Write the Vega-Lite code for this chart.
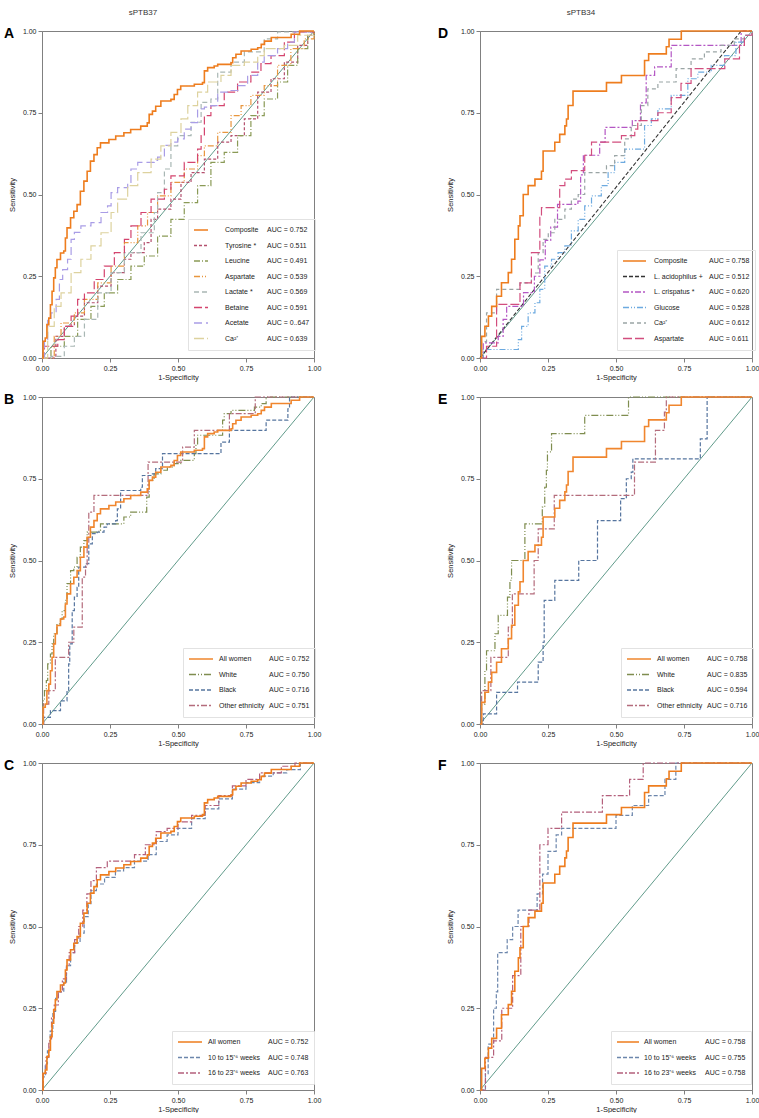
{
"$schema":"https://vega.github.io/schema/vega-lite/v6.json",
"padding":{"left":3,"top":8,"right":0,"bottom":0},
"config":{
 "font":"Liberation Sans",
 "view":{"stroke":"#808080","strokeWidth":1},
 "axis":{"grid":false,"tickSize":4,"tickColor":"#808080","domainColor":"#808080","labelFont":"Liberation Sans","labelFontSize":7,"labelColor":"#222","titleFont":"Liberation Sans","titleFontSize":7.5,"titleFontWeight":"normal","titleColor":"#222","labelFlush":false,"labelOverlap":false,"labelPadding":2},
 "axisX":{"titlePadding":2},
 "axisY":{"titlePadding":6},
 "legend":{"labelFont":"Liberation Sans","labelFontSize":7,"labelColor":"#222","padding":5,"rowPadding":3.5,"clipHeight":12,"symbolStrokeWidth":1.4,"labelLimit":200},
 "title":{"anchor":"start","frame":"group","offset":0,"fontSize":14,"fontWeight":"bold","font":"Liberation Sans","color":"#000","baseline":"alphabetic"},
 "line":{"strokeCap":"butt"}
},
"datasets":{
 "diag":[{"x":0,"y":0},{"x":1,"y":1}],
 "c37":[{"x":0,"y":0},{"x":0.004,"y":0.051},{"x":0.012,"y":0.061},{"x":0.018,"y":0.102},{"x":0.025,"y":0.122},{"x":0.031,"y":0.163},{"x":0.037,"y":0.204},{"x":0.043,"y":0.245},{"x":0.049,"y":0.276},{"x":0.055,"y":0.301},{"x":0.068,"y":0.321},{"x":0.08,"y":0.327},{"x":0.086,"y":0.367},{"x":0.092,"y":0.398},{"x":0.105,"y":0.429},{"x":0.117,"y":0.449},{"x":0.129,"y":0.469},{"x":0.141,"y":0.51},{"x":0.154,"y":0.541},{"x":0.166,"y":0.571},{"x":0.178,"y":0.602},{"x":0.191,"y":0.622},{"x":0.203,"y":0.643},{"x":0.215,"y":0.658},{"x":0.246,"y":0.668},{"x":0.271,"y":0.679},{"x":0.301,"y":0.689},{"x":0.326,"y":0.699},{"x":0.363,"y":0.709},{"x":0.387,"y":0.719},{"x":0.394,"y":0.745},{"x":0.406,"y":0.755},{"x":0.418,"y":0.77},{"x":0.437,"y":0.786},{"x":0.474,"y":0.791},{"x":0.486,"y":0.806},{"x":0.498,"y":0.821},{"x":0.51,"y":0.832},{"x":0.56,"y":0.837},{"x":0.59,"y":0.842},{"x":0.597,"y":0.878},{"x":0.609,"y":0.888},{"x":0.633,"y":0.893},{"x":0.646,"y":0.898},{"x":0.695,"y":0.903},{"x":0.701,"y":0.918},{"x":0.713,"y":0.929},{"x":0.732,"y":0.939},{"x":0.769,"y":0.944},{"x":0.793,"y":0.949},{"x":0.806,"y":0.959},{"x":0.818,"y":0.969},{"x":0.843,"y":0.98},{"x":0.916,"y":0.99},{"x":0.947,"y":1},{"x":1,"y":1}],
 "c34":[{"x":0,"y":0},{"x":0.006,"y":0.066},{"x":0.018,"y":0.097},{"x":0.031,"y":0.128},{"x":0.043,"y":0.158},{"x":0.061,"y":0.189},{"x":0.079,"y":0.23},{"x":0.104,"y":0.261},{"x":0.116,"y":0.302},{"x":0.128,"y":0.363},{"x":0.141,"y":0.404},{"x":0.147,"y":0.435},{"x":0.159,"y":0.5},{"x":0.177,"y":0.527},{"x":0.202,"y":0.547},{"x":0.226,"y":0.571},{"x":0.232,"y":0.633},{"x":0.275,"y":0.66},{"x":0.293,"y":0.684},{"x":0.312,"y":0.71},{"x":0.318,"y":0.731},{"x":0.324,"y":0.772},{"x":0.342,"y":0.816},{"x":0.465,"y":0.842},{"x":0.52,"y":0.864},{"x":0.605,"y":0.91},{"x":0.62,"y":0.93},{"x":0.685,"y":0.952},{"x":0.695,"y":0.975},{"x":0.74,"y":1},{"x":1,"y":1}],
 "a":[
  {"s":"Tyrosine *","x":0,"y":0},{"s":"Tyrosine *","x":0.051,"y":0.066},{"s":"Tyrosine *","x":0.082,"y":0.097},{"s":"Tyrosine *","x":0.119,"y":0.128},{"s":"Tyrosine *","x":0.156,"y":0.169},{"s":"Tyrosine *","x":0.205,"y":0.22},{"s":"Tyrosine *","x":0.254,"y":0.261},{"s":"Tyrosine *","x":0.303,"y":0.302},{"s":"Tyrosine *","x":0.327,"y":0.322},{"s":"Tyrosine *","x":0.376,"y":0.353},{"s":"Tyrosine *","x":0.401,"y":0.424},{"s":"Tyrosine *","x":0.425,"y":0.455},{"s":"Tyrosine *","x":0.474,"y":0.486},{"s":"Tyrosine *","x":0.511,"y":0.537},{"s":"Tyrosine *","x":0.548,"y":0.567},{"s":"Tyrosine *","x":0.597,"y":0.608},{"s":"Tyrosine *","x":0.646,"y":0.66},{"s":"Tyrosine *","x":0.695,"y":0.68},{"s":"Tyrosine *","x":0.744,"y":0.731},{"s":"Tyrosine *","x":0.793,"y":0.813},{"s":"Tyrosine *","x":0.842,"y":0.854},{"s":"Tyrosine *","x":0.891,"y":0.905},{"s":"Tyrosine *","x":0.94,"y":0.956},{"s":"Tyrosine *","x":0.977,"y":0.987},{"s":"Tyrosine *","x":1,"y":1},
  {"s":"Leucine","x":0,"y":0},{"s":"Leucine","x":0.033,"y":0.036},{"s":"Leucine","x":0.082,"y":0.066},{"s":"Leucine","x":0.131,"y":0.118},{"s":"Leucine","x":0.18,"y":0.158},{"s":"Leucine","x":0.229,"y":0.199},{"s":"Leucine","x":0.278,"y":0.24},{"s":"Leucine","x":0.327,"y":0.281},{"s":"Leucine","x":0.376,"y":0.312},{"s":"Leucine","x":0.425,"y":0.373},{"s":"Leucine","x":0.474,"y":0.424},{"s":"Leucine","x":0.523,"y":0.475},{"s":"Leucine","x":0.572,"y":0.527},{"s":"Leucine","x":0.621,"y":0.598},{"s":"Leucine","x":0.67,"y":0.629},{"s":"Leucine","x":0.719,"y":0.68},{"s":"Leucine","x":0.768,"y":0.741},{"s":"Leucine","x":0.817,"y":0.792},{"s":"Leucine","x":0.866,"y":0.844},{"s":"Leucine","x":0.903,"y":0.895},{"s":"Leucine","x":0.94,"y":0.946},{"s":"Leucine","x":0.977,"y":0.987},{"s":"Leucine","x":1,"y":1},
  {"s":"Aspartate","x":0,"y":0},{"s":"Aspartate","x":0.045,"y":0.066},{"s":"Aspartate","x":0.07,"y":0.107},{"s":"Aspartate","x":0.119,"y":0.138},{"s":"Aspartate","x":0.156,"y":0.179},{"s":"Aspartate","x":0.205,"y":0.23},{"s":"Aspartate","x":0.254,"y":0.281},{"s":"Aspartate","x":0.303,"y":0.353},{"s":"Aspartate","x":0.352,"y":0.404},{"s":"Aspartate","x":0.388,"y":0.445},{"s":"Aspartate","x":0.425,"y":0.496},{"s":"Aspartate","x":0.474,"y":0.537},{"s":"Aspartate","x":0.523,"y":0.578},{"s":"Aspartate","x":0.572,"y":0.619},{"s":"Aspartate","x":0.597,"y":0.649},{"s":"Aspartate","x":0.646,"y":0.69},{"s":"Aspartate","x":0.695,"y":0.741},{"s":"Aspartate","x":0.732,"y":0.772},{"s":"Aspartate","x":0.768,"y":0.803},{"s":"Aspartate","x":0.817,"y":0.833},{"s":"Aspartate","x":0.866,"y":0.895},{"s":"Aspartate","x":0.915,"y":0.946},{"s":"Aspartate","x":0.964,"y":0.976},{"s":"Aspartate","x":1,"y":1},
  {"s":"Lactate *","x":0,"y":0},{"s":"Lactate *","x":0.033,"y":0.005},{"s":"Lactate *","x":0.082,"y":0.036},{"s":"Lactate *","x":0.119,"y":0.066},{"s":"Lactate *","x":0.156,"y":0.118},{"s":"Lactate *","x":0.205,"y":0.199},{"s":"Lactate *","x":0.254,"y":0.261},{"s":"Lactate *","x":0.303,"y":0.322},{"s":"Lactate *","x":0.364,"y":0.383},{"s":"Lactate *","x":0.413,"y":0.445},{"s":"Lactate *","x":0.425,"y":0.506},{"s":"Lactate *","x":0.45,"y":0.578},{"s":"Lactate *","x":0.474,"y":0.649},{"s":"Lactate *","x":0.499,"y":0.68},{"s":"Lactate *","x":0.548,"y":0.721},{"s":"Lactate *","x":0.585,"y":0.782},{"s":"Lactate *","x":0.621,"y":0.792},{"s":"Lactate *","x":0.646,"y":0.874},{"s":"Lactate *","x":0.695,"y":0.905},{"s":"Lactate *","x":0.744,"y":0.936},{"s":"Lactate *","x":0.817,"y":0.976},{"s":"Lactate *","x":0.866,"y":0.997},{"s":"Lactate *","x":1,"y":1},
  {"s":"Betaine","x":0,"y":0},{"s":"Betaine","x":0.009,"y":0.036},{"s":"Betaine","x":0.058,"y":0.056},{"s":"Betaine","x":0.082,"y":0.097},{"s":"Betaine","x":0.107,"y":0.128},{"s":"Betaine","x":0.131,"y":0.179},{"s":"Betaine","x":0.156,"y":0.199},{"s":"Betaine","x":0.192,"y":0.24},{"s":"Betaine","x":0.229,"y":0.281},{"s":"Betaine","x":0.266,"y":0.322},{"s":"Betaine","x":0.303,"y":0.363},{"s":"Betaine","x":0.327,"y":0.404},{"s":"Betaine","x":0.364,"y":0.445},{"s":"Betaine","x":0.401,"y":0.486},{"s":"Betaine","x":0.45,"y":0.516},{"s":"Betaine","x":0.474,"y":0.557},{"s":"Betaine","x":0.523,"y":0.598},{"s":"Betaine","x":0.572,"y":0.639},{"s":"Betaine","x":0.585,"y":0.68},{"s":"Betaine","x":0.597,"y":0.741},{"s":"Betaine","x":0.621,"y":0.772},{"s":"Betaine","x":0.67,"y":0.813},{"s":"Betaine","x":0.719,"y":0.844},{"s":"Betaine","x":0.768,"y":0.874},{"s":"Betaine","x":0.805,"y":0.9},{"s":"Betaine","x":0.842,"y":0.925},{"s":"Betaine","x":0.891,"y":0.966},{"s":"Betaine","x":0.928,"y":0.997},{"s":"Betaine","x":1,"y":1},
  {"s":"Acetate","x":0,"y":0},{"s":"Acetate","x":0.009,"y":0.056},{"s":"Acetate","x":0.021,"y":0.118},{"s":"Acetate","x":0.033,"y":0.138},{"s":"Acetate","x":0.052,"y":0.179},{"s":"Acetate","x":0.064,"y":0.24},{"s":"Acetate","x":0.076,"y":0.27},{"s":"Acetate","x":0.094,"y":0.302},{"s":"Acetate","x":0.107,"y":0.363},{"s":"Acetate","x":0.119,"y":0.384},{"s":"Acetate","x":0.143,"y":0.404},{"s":"Acetate","x":0.18,"y":0.414},{"s":"Acetate","x":0.217,"y":0.445},{"s":"Acetate","x":0.241,"y":0.465},{"s":"Acetate","x":0.254,"y":0.506},{"s":"Acetate","x":0.278,"y":0.521},{"s":"Acetate","x":0.315,"y":0.537},{"s":"Acetate","x":0.327,"y":0.578},{"s":"Acetate","x":0.352,"y":0.598},{"s":"Acetate","x":0.413,"y":0.604},{"s":"Acetate","x":0.425,"y":0.614},{"s":"Acetate","x":0.45,"y":0.65},{"s":"Acetate","x":0.474,"y":0.66},{"s":"Acetate","x":0.499,"y":0.67},{"s":"Acetate","x":0.523,"y":0.7},{"s":"Acetate","x":0.548,"y":0.72},{"s":"Acetate","x":0.572,"y":0.762},{"s":"Acetate","x":0.597,"y":0.767},{"s":"Acetate","x":0.621,"y":0.772},{"s":"Acetate","x":0.646,"y":0.813},{"s":"Acetate","x":0.695,"y":0.818},{"s":"Acetate","x":0.72,"y":0.833},{"s":"Acetate","x":0.756,"y":0.864},{"s":"Acetate","x":0.793,"y":0.905},{"s":"Acetate","x":0.817,"y":0.925},{"s":"Acetate","x":0.866,"y":0.946},{"s":"Acetate","x":0.903,"y":0.966},{"s":"Acetate","x":0.928,"y":0.997},{"s":"Acetate","x":1,"y":1},
  {"s":"Ca²⁺","x":0,"y":0},{"s":"Ca²⁺","x":0.021,"y":0.097},{"s":"Ca²⁺","x":0.045,"y":0.158},{"s":"Ca²⁺","x":0.07,"y":0.199},{"s":"Ca²⁺","x":0.107,"y":0.261},{"s":"Ca²⁺","x":0.143,"y":0.302},{"s":"Ca²⁺","x":0.18,"y":0.343},{"s":"Ca²⁺","x":0.217,"y":0.383},{"s":"Ca²⁺","x":0.254,"y":0.445},{"s":"Ca²⁺","x":0.278,"y":0.486},{"s":"Ca²⁺","x":0.315,"y":0.527},{"s":"Ca²⁺","x":0.352,"y":0.567},{"s":"Ca²⁺","x":0.401,"y":0.608},{"s":"Ca²⁺","x":0.437,"y":0.649},{"s":"Ca²⁺","x":0.474,"y":0.69},{"s":"Ca²⁺","x":0.511,"y":0.731},{"s":"Ca²⁺","x":0.536,"y":0.772},{"s":"Ca²⁺","x":0.572,"y":0.813},{"s":"Ca²⁺","x":0.609,"y":0.844},{"s":"Ca²⁺","x":0.658,"y":0.864},{"s":"Ca²⁺","x":0.695,"y":0.895},{"s":"Ca²⁺","x":0.744,"y":0.905},{"s":"Ca²⁺","x":0.793,"y":0.925},{"s":"Ca²⁺","x":0.817,"y":0.946},{"s":"Ca²⁺","x":0.891,"y":0.956},{"s":"Ca²⁺","x":0.94,"y":0.987},{"s":"Ca²⁺","x":1,"y":1}
 ],
 "d":[
  {"s":"L. crispatus *","x":0,"y":0},{"s":"L. crispatus *","x":0.012,"y":0.046},{"s":"L. crispatus *","x":0.067,"y":0.066},{"s":"L. crispatus *","x":0.085,"y":0.118},{"s":"L. crispatus *","x":0.098,"y":0.158},{"s":"L. crispatus *","x":0.16,"y":0.2},{"s":"L. crispatus *","x":0.2,"y":0.25},{"s":"L. crispatus *","x":0.22,"y":0.3},{"s":"L. crispatus *","x":0.24,"y":0.36},{"s":"L. crispatus *","x":0.26,"y":0.4},{"s":"L. crispatus *","x":0.285,"y":0.47},{"s":"L. crispatus *","x":0.36,"y":0.48},{"s":"L. crispatus *","x":0.37,"y":0.56},{"s":"L. crispatus *","x":0.38,"y":0.62},{"s":"L. crispatus *","x":0.44,"y":0.66},{"s":"L. crispatus *","x":0.46,"y":0.705},{"s":"L. crispatus *","x":0.56,"y":0.726},{"s":"L. crispatus *","x":0.59,"y":0.78},{"s":"L. crispatus *","x":0.611,"y":0.864},{"s":"L. crispatus *","x":0.642,"y":0.89},{"s":"L. crispatus *","x":0.703,"y":0.956},{"s":"L. crispatus *","x":0.96,"y":1},{"s":"L. crispatus *","x":1,"y":1},
  {"s":"Glucose","x":0,"y":0},{"s":"Glucose","x":0.012,"y":0.026},{"s":"Glucose","x":0.141,"y":0.056},{"s":"Glucose","x":0.153,"y":0.097},{"s":"Glucose","x":0.177,"y":0.138},{"s":"Glucose","x":0.202,"y":0.169},{"s":"Glucose","x":0.22,"y":0.21},{"s":"Glucose","x":0.238,"y":0.281},{"s":"Glucose","x":0.263,"y":0.302},{"s":"Glucose","x":0.287,"y":0.322},{"s":"Glucose","x":0.312,"y":0.343},{"s":"Glucose","x":0.336,"y":0.389},{"s":"Glucose","x":0.361,"y":0.424},{"s":"Glucose","x":0.385,"y":0.465},{"s":"Glucose","x":0.41,"y":0.496},{"s":"Glucose","x":0.446,"y":0.527},{"s":"Glucose","x":0.471,"y":0.567},{"s":"Glucose","x":0.495,"y":0.598},{"s":"Glucose","x":0.532,"y":0.639},{"s":"Glucose","x":0.605,"y":0.711},{"s":"Glucose","x":0.63,"y":0.731},{"s":"Glucose","x":0.654,"y":0.762},{"s":"Glucose","x":0.703,"y":0.803},{"s":"Glucose","x":0.764,"y":0.854},{"s":"Glucose","x":0.801,"y":0.874},{"s":"Glucose","x":0.85,"y":0.895},{"s":"Glucose","x":0.899,"y":0.925},{"s":"Glucose","x":0.941,"y":0.966},{"s":"Glucose","x":0.972,"y":0.987},{"s":"Glucose","x":1,"y":1},
  {"s":"Ca²⁺","x":0,"y":0},{"s":"Ca²⁺","x":0.006,"y":0.05},{"s":"Ca²⁺","x":0.024,"y":0.138},{"s":"Ca²⁺","x":0.061,"y":0.21},{"s":"Ca²⁺","x":0.147,"y":0.23},{"s":"Ca²⁺","x":0.189,"y":0.26},{"s":"Ca²⁺","x":0.214,"y":0.322},{"s":"Ca²⁺","x":0.232,"y":0.363},{"s":"Ca²⁺","x":0.251,"y":0.383},{"s":"Ca²⁺","x":0.275,"y":0.424},{"s":"Ca²⁺","x":0.312,"y":0.455},{"s":"Ca²⁺","x":0.336,"y":0.486},{"s":"Ca²⁺","x":0.361,"y":0.5},{"s":"Ca²⁺","x":0.385,"y":0.567},{"s":"Ca²⁺","x":0.465,"y":0.588},{"s":"Ca²⁺","x":0.495,"y":0.619},{"s":"Ca²⁺","x":0.532,"y":0.67},{"s":"Ca²⁺","x":0.556,"y":0.711},{"s":"Ca²⁺","x":0.593,"y":0.772},{"s":"Ca²⁺","x":0.617,"y":0.823},{"s":"Ca²⁺","x":0.654,"y":0.844},{"s":"Ca²⁺","x":0.721,"y":0.885},{"s":"Ca²⁺","x":0.776,"y":0.915},{"s":"Ca²⁺","x":0.825,"y":0.936},{"s":"Ca²⁺","x":0.886,"y":0.956},{"s":"Ca²⁺","x":0.935,"y":0.976},{"s":"Ca²⁺","x":0.972,"y":0.987},{"s":"Ca²⁺","x":1,"y":1},
  {"s":"Aspartate","x":0,"y":0},{"s":"Aspartate","x":0.024,"y":0.036},{"s":"Aspartate","x":0.061,"y":0.164},{"s":"Aspartate","x":0.147,"y":0.23},{"s":"Aspartate","x":0.189,"y":0.322},{"s":"Aspartate","x":0.22,"y":0.43},{"s":"Aspartate","x":0.226,"y":0.46},{"s":"Aspartate","x":0.293,"y":0.527},{"s":"Aspartate","x":0.312,"y":0.547},{"s":"Aspartate","x":0.336,"y":0.573},{"s":"Aspartate","x":0.385,"y":0.62},{"s":"Aspartate","x":0.41,"y":0.66},{"s":"Aspartate","x":0.52,"y":0.68},{"s":"Aspartate","x":0.569,"y":0.7},{"s":"Aspartate","x":0.58,"y":0.726},{"s":"Aspartate","x":0.654,"y":0.75},{"s":"Aspartate","x":0.703,"y":0.796},{"s":"Aspartate","x":0.739,"y":0.84},{"s":"Aspartate","x":0.776,"y":0.885},{"s":"Aspartate","x":0.9,"y":0.915},{"s":"Aspartate","x":0.954,"y":0.956},{"s":"Aspartate","x":0.972,"y":0.987},{"s":"Aspartate","x":1,"y":1}
 ],
 "dlin":[{"s":"L. acidophilus +","x":0,"y":0},{"s":"L. acidophilus +","x":0.25,"y":0.262},{"s":"L. acidophilus +","x":0.5,"y":0.522},{"s":"L. acidophilus +","x":0.75,"y":0.782},{"s":"L. acidophilus +","x":0.96,"y":1},{"s":"L. acidophilus +","x":1,"y":1}],
 "b":[
  {"s":"White","x":0,"y":0},{"s":"White","x":0.004,"y":0.071},{"s":"White","x":0.009,"y":0.102},{"s":"White","x":0.016,"y":0.133},{"s":"White","x":0.021,"y":0.184},{"s":"White","x":0.031,"y":0.214},{"s":"White","x":0.037,"y":0.245},{"s":"White","x":0.043,"y":0.276},{"s":"White","x":0.055,"y":0.306},{"s":"White","x":0.068,"y":0.321},{"s":"White","x":0.074,"y":0.347},{"s":"White","x":0.086,"y":0.378},{"s":"White","x":0.092,"y":0.429},{"s":"White","x":0.105,"y":0.469},{"s":"White","x":0.117,"y":0.48},{"s":"White","x":0.129,"y":0.51},{"s":"White","x":0.141,"y":0.541},{"s":"White","x":0.154,"y":0.561},{"s":"White","x":0.166,"y":0.587},{"s":"White","x":0.209,"y":0.592},{"s":"White","x":0.215,"y":0.612},{"s":"White","x":0.301,"y":0.633},{"s":"White","x":0.326,"y":0.648},{"s":"White","x":0.385,"y":0.694},{"s":"White","x":0.394,"y":0.745},{"s":"White","x":0.412,"y":0.765},{"s":"White","x":0.437,"y":0.776},{"s":"White","x":0.461,"y":0.786},{"s":"White","x":0.486,"y":0.796},{"s":"White","x":0.51,"y":0.806},{"s":"White","x":0.56,"y":0.827},{"s":"White","x":0.566,"y":0.852},{"s":"White","x":0.572,"y":0.883},{"s":"White","x":0.664,"y":0.929},{"s":"White","x":0.67,"y":0.949},{"s":"White","x":0.695,"y":0.959},{"s":"White","x":0.781,"y":0.969},{"s":"White","x":0.806,"y":0.98},{"s":"White","x":0.824,"y":1},{"s":"White","x":1,"y":1},
  {"s":"Black","x":0,"y":0},{"s":"Black","x":0.006,"y":0.02},{"s":"Black","x":0.031,"y":0.041},{"s":"Black","x":0.068,"y":0.071},{"s":"Black","x":0.092,"y":0.102},{"s":"Black","x":0.098,"y":0.184},{"s":"Black","x":0.102,"y":0.245},{"s":"Black","x":0.111,"y":0.347},{"s":"Black","x":0.119,"y":0.388},{"s":"Black","x":0.129,"y":0.418},{"s":"Black","x":0.135,"y":0.48},{"s":"Black","x":0.16,"y":0.49},{"s":"Black","x":0.172,"y":0.551},{"s":"Black","x":0.185,"y":0.582},{"s":"Black","x":0.203,"y":0.587},{"s":"Black","x":0.228,"y":0.602},{"s":"Black","x":0.24,"y":0.612},{"s":"Black","x":0.271,"y":0.622},{"s":"Black","x":0.277,"y":0.658},{"s":"Black","x":0.289,"y":0.714},{"s":"Black","x":0.363,"y":0.724},{"s":"Black","x":0.369,"y":0.76},{"s":"Black","x":0.406,"y":0.765},{"s":"Black","x":0.418,"y":0.781},{"s":"Black","x":0.443,"y":0.827},{"s":"Black","x":0.658,"y":0.862},{"s":"Black","x":0.689,"y":0.898},{"s":"Black","x":0.824,"y":0.929},{"s":"Black","x":0.904,"y":0.964},{"s":"Black","x":0.91,"y":1},{"s":"Black","x":1,"y":1},
  {"s":"Other ethnicity","x":0,"y":0},{"s":"Other ethnicity","x":0.006,"y":0.061},{"s":"Other ethnicity","x":0.025,"y":0.102},{"s":"Other ethnicity","x":0.049,"y":0.204},{"s":"Other ethnicity","x":0.098,"y":0.25},{"s":"Other ethnicity","x":0.117,"y":0.296},{"s":"Other ethnicity","x":0.148,"y":0.449},{"s":"Other ethnicity","x":0.16,"y":0.48},{"s":"Other ethnicity","x":0.166,"y":0.551},{"s":"Other ethnicity","x":0.172,"y":0.648},{"s":"Other ethnicity","x":0.191,"y":0.699},{"s":"Other ethnicity","x":0.39,"y":0.801},{"s":"Other ethnicity","x":0.517,"y":0.847},{"s":"Other ethnicity","x":0.56,"y":0.898},{"s":"Other ethnicity","x":0.689,"y":0.949},{"s":"Other ethnicity","x":0.784,"y":1},{"s":"Other ethnicity","x":1,"y":1}
 ],
 "e":[
  {"s":"White","x":0,"y":0},{"s":"White","x":0.006,"y":0.061},{"s":"White","x":0.018,"y":0.163},{"s":"White","x":0.024,"y":0.224},{"s":"White","x":0.055,"y":0.276},{"s":"White","x":0.067,"y":0.332},{"s":"White","x":0.101,"y":0.388},{"s":"White","x":0.11,"y":0.439},{"s":"White","x":0.116,"y":0.5},{"s":"White","x":0.165,"y":0.612},{"s":"White","x":0.229,"y":0.663},{"s":"White","x":0.238,"y":0.724},{"s":"White","x":0.244,"y":0.776},{"s":"White","x":0.248,"y":0.832},{"s":"White","x":0.263,"y":0.888},{"s":"White","x":0.385,"y":0.944},{"s":"White","x":0.546,"y":1},{"s":"White","x":1,"y":1},
  {"s":"Black","x":0,"y":0},{"s":"Black","x":0.012,"y":0.031},{"s":"Black","x":0.061,"y":0.097},{"s":"Black","x":0.138,"y":0.128},{"s":"Black","x":0.214,"y":0.189},{"s":"Black","x":0.232,"y":0.25},{"s":"Black","x":0.236,"y":0.378},{"s":"Black","x":0.275,"y":0.439},{"s":"Black","x":0.363,"y":0.5},{"s":"Black","x":0.432,"y":0.622},{"s":"Black","x":0.517,"y":0.689},{"s":"Black","x":0.538,"y":0.75},{"s":"Black","x":0.556,"y":0.77},{"s":"Black","x":0.562,"y":0.811},{"s":"Black","x":0.81,"y":0.872},{"s":"Black","x":0.835,"y":1},{"s":"Black","x":1,"y":1},
  {"s":"Other ethnicity","x":0,"y":0},{"s":"Other ethnicity","x":0.006,"y":0.102},{"s":"Other ethnicity","x":0.04,"y":0.204},{"s":"Other ethnicity","x":0.104,"y":0.296},{"s":"Other ethnicity","x":0.119,"y":0.398},{"s":"Other ethnicity","x":0.199,"y":0.5},{"s":"Other ethnicity","x":0.214,"y":0.597},{"s":"Other ethnicity","x":0.273,"y":0.699},{"s":"Other ethnicity","x":0.568,"y":0.801},{"s":"Other ethnicity","x":0.645,"y":0.898},{"s":"Other ethnicity","x":0.678,"y":0.954},{"s":"Other ethnicity","x":0.685,"y":1},{"s":"Other ethnicity","x":1,"y":1}
 ],
 "c":[
  {"s":"10 to 15⁺⁶ weeks","x":0,"y":0},{"s":"10 to 15⁺⁶ weeks","x":0.004,"y":0.04},{"s":"10 to 15⁺⁶ weeks","x":0.012,"y":0.08},{"s":"10 to 15⁺⁶ weeks","x":0.02,"y":0.12},{"s":"10 to 15⁺⁶ weeks","x":0.03,"y":0.18},{"s":"10 to 15⁺⁶ weeks","x":0.04,"y":0.24},{"s":"10 to 15⁺⁶ weeks","x":0.05,"y":0.28},{"s":"10 to 15⁺⁶ weeks","x":0.06,"y":0.3},{"s":"10 to 15⁺⁶ weeks","x":0.08,"y":0.33},{"s":"10 to 15⁺⁶ weeks","x":0.09,"y":0.38},{"s":"10 to 15⁺⁶ weeks","x":0.105,"y":0.42},{"s":"10 to 15⁺⁶ weeks","x":0.12,"y":0.45},{"s":"10 to 15⁺⁶ weeks","x":0.14,"y":0.48},{"s":"10 to 15⁺⁶ weeks","x":0.155,"y":0.53},{"s":"10 to 15⁺⁶ weeks","x":0.17,"y":0.57},{"s":"10 to 15⁺⁶ weeks","x":0.18,"y":0.61},{"s":"10 to 15⁺⁶ weeks","x":0.2,"y":0.63},{"s":"10 to 15⁺⁶ weeks","x":0.23,"y":0.65},{"s":"10 to 15⁺⁶ weeks","x":0.27,"y":0.67},{"s":"10 to 15⁺⁶ weeks","x":0.3,"y":0.68},{"s":"10 to 15⁺⁶ weeks","x":0.34,"y":0.7},{"s":"10 to 15⁺⁶ weeks","x":0.39,"y":0.72},{"s":"10 to 15⁺⁶ weeks","x":0.42,"y":0.76},{"s":"10 to 15⁺⁶ weeks","x":0.46,"y":0.78},{"s":"10 to 15⁺⁶ weeks","x":0.5,"y":0.8},{"s":"10 to 15⁺⁶ weeks","x":0.55,"y":0.83},{"s":"10 to 15⁺⁶ weeks","x":0.6,"y":0.86},{"s":"10 to 15⁺⁶ weeks","x":0.65,"y":0.89},{"s":"10 to 15⁺⁶ weeks","x":0.7,"y":0.92},{"s":"10 to 15⁺⁶ weeks","x":0.75,"y":0.94},{"s":"10 to 15⁺⁶ weeks","x":0.8,"y":0.96},{"s":"10 to 15⁺⁶ weeks","x":0.85,"y":0.97},{"s":"10 to 15⁺⁶ weeks","x":0.9,"y":0.98},{"s":"10 to 15⁺⁶ weeks","x":0.95,"y":1},{"s":"10 to 15⁺⁶ weeks","x":1,"y":1},
  {"s":"16 to 23⁺⁶ weeks","x":0,"y":0},{"s":"16 to 23⁺⁶ weeks","x":0.004,"y":0.05},{"s":"16 to 23⁺⁶ weeks","x":0.015,"y":0.1},{"s":"16 to 23⁺⁶ weeks","x":0.025,"y":0.15},{"s":"16 to 23⁺⁶ weeks","x":0.035,"y":0.22},{"s":"16 to 23⁺⁶ weeks","x":0.045,"y":0.26},{"s":"16 to 23⁺⁶ weeks","x":0.06,"y":0.3},{"s":"16 to 23⁺⁶ weeks","x":0.075,"y":0.34},{"s":"16 to 23⁺⁶ weeks","x":0.09,"y":0.38},{"s":"16 to 23⁺⁶ weeks","x":0.1,"y":0.42},{"s":"16 to 23⁺⁶ weeks","x":0.12,"y":0.46},{"s":"16 to 23⁺⁶ weeks","x":0.135,"y":0.5},{"s":"16 to 23⁺⁶ weeks","x":0.15,"y":0.55},{"s":"16 to 23⁺⁶ weeks","x":0.165,"y":0.6},{"s":"16 to 23⁺⁶ weeks","x":0.18,"y":0.64},{"s":"16 to 23⁺⁶ weeks","x":0.2,"y":0.68},{"s":"16 to 23⁺⁶ weeks","x":0.24,"y":0.7},{"s":"16 to 23⁺⁶ weeks","x":0.34,"y":0.72},{"s":"16 to 23⁺⁶ weeks","x":0.38,"y":0.75},{"s":"16 to 23⁺⁶ weeks","x":0.42,"y":0.79},{"s":"16 to 23⁺⁶ weeks","x":0.46,"y":0.8},{"s":"16 to 23⁺⁶ weeks","x":0.5,"y":0.82},{"s":"16 to 23⁺⁶ weeks","x":0.55,"y":0.84},{"s":"16 to 23⁺⁶ weeks","x":0.6,"y":0.87},{"s":"16 to 23⁺⁶ weeks","x":0.65,"y":0.9},{"s":"16 to 23⁺⁶ weeks","x":0.7,"y":0.93},{"s":"16 to 23⁺⁶ weeks","x":0.75,"y":0.95},{"s":"16 to 23⁺⁶ weeks","x":0.8,"y":0.97},{"s":"16 to 23⁺⁶ weeks","x":0.88,"y":0.99},{"s":"16 to 23⁺⁶ weeks","x":0.93,"y":1},{"s":"16 to 23⁺⁶ weeks","x":1,"y":1}
 ],
 "f":[
  {"s":"10 to 15⁺⁶ weeks","x":0,"y":0},{"s":"10 to 15⁺⁶ weeks","x":0.02,"y":0.05},{"s":"10 to 15⁺⁶ weeks","x":0.03,"y":0.14},{"s":"10 to 15⁺⁶ weeks","x":0.05,"y":0.25},{"s":"10 to 15⁺⁶ weeks","x":0.06,"y":0.3},{"s":"10 to 15⁺⁶ weeks","x":0.065,"y":0.42},{"s":"10 to 15⁺⁶ weeks","x":0.1,"y":0.46},{"s":"10 to 15⁺⁶ weeks","x":0.12,"y":0.5},{"s":"10 to 15⁺⁶ weeks","x":0.14,"y":0.55},{"s":"10 to 15⁺⁶ weeks","x":0.21,"y":0.6},{"s":"10 to 15⁺⁶ weeks","x":0.23,"y":0.66},{"s":"10 to 15⁺⁶ weeks","x":0.25,"y":0.73},{"s":"10 to 15⁺⁶ weeks","x":0.28,"y":0.78},{"s":"10 to 15⁺⁶ weeks","x":0.3,"y":0.8},{"s":"10 to 15⁺⁶ weeks","x":0.5,"y":0.84},{"s":"10 to 15⁺⁶ weeks","x":0.56,"y":0.87},{"s":"10 to 15⁺⁶ weeks","x":0.62,"y":0.9},{"s":"10 to 15⁺⁶ weeks","x":0.68,"y":0.95},{"s":"10 to 15⁺⁶ weeks","x":0.72,"y":1},{"s":"10 to 15⁺⁶ weeks","x":1,"y":1},
  {"s":"16 to 23⁺⁶ weeks","x":0,"y":0},{"s":"16 to 23⁺⁶ weeks","x":0.02,"y":0.1},{"s":"16 to 23⁺⁶ weeks","x":0.05,"y":0.15},{"s":"16 to 23⁺⁶ weeks","x":0.08,"y":0.25},{"s":"16 to 23⁺⁶ weeks","x":0.12,"y":0.35},{"s":"16 to 23⁺⁶ weeks","x":0.15,"y":0.5},{"s":"16 to 23⁺⁶ weeks","x":0.18,"y":0.55},{"s":"16 to 23⁺⁶ weeks","x":0.22,"y":0.75},{"s":"16 to 23⁺⁶ weeks","x":0.25,"y":0.8},{"s":"16 to 23⁺⁶ weeks","x":0.3,"y":0.85},{"s":"16 to 23⁺⁶ weeks","x":0.45,"y":0.9},{"s":"16 to 23⁺⁶ weeks","x":0.55,"y":0.95},{"s":"16 to 23⁺⁶ weeks","x":0.6,"y":1},{"s":"16 to 23⁺⁶ weeks","x":1,"y":1}
 ],
 "la":[{"s":"Composite","auc":"AUC = 0.752","o":1},{"s":"Tyrosine *","auc":"AUC = 0.511","o":2},{"s":"Leucine","auc":"AUC = 0.491","o":3},{"s":"Aspartate","auc":"AUC = 0.539","o":4},{"s":"Lactate *","auc":"AUC = 0.569","o":5},{"s":"Betaine","auc":"AUC = 0.591","o":6},{"s":"Acetate","auc":"AUC = 0..647","o":7},{"s":"Ca²⁺","auc":"AUC = 0.639","o":8}],
 "ld":[{"s":"Composite","auc":"AUC = 0.758","o":1},{"s":"L. acidophilus +","auc":"AUC = 0.512","o":2},{"s":"L. crispatus *","auc":"AUC = 0.620","o":3},{"s":"Glucose","auc":"AUC = 0.528","o":4},{"s":"Ca²⁺","auc":"AUC = 0.612","o":5},{"s":"Aspartate","auc":"AUC = 0.611","o":6}],
 "lb":[{"s":"All women","auc":"AUC = 0.752","o":1},{"s":"White","auc":"AUC = 0.750","o":2},{"s":"Black","auc":"AUC = 0.716","o":3},{"s":"Other ethnicity","auc":"AUC = 0.751","o":4}],
 "le":[{"s":"All women","auc":"AUC = 0.758","o":1},{"s":"White","auc":"AUC = 0.835","o":2},{"s":"Black","auc":"AUC = 0.594","o":3},{"s":"Other ethnicity","auc":"AUC = 0.716","o":4}],
 "lc":[{"s":"All women","auc":"AUC = 0.752","o":1},{"s":"10 to 15⁺⁶ weeks","auc":"AUC = 0.748","o":2},{"s":"16 to 23⁺⁶ weeks","auc":"AUC = 0.763","o":3}],
 "lf":[{"s":"All women","auc":"AUC = 0.758","o":1},{"s":"10 to 15⁺⁶ weeks","auc":"AUC = 0.755","o":2},{"s":"16 to 23⁺⁶ weeks","auc":"AUC = 0.758 ","o":3}]
},
"spacing":115,
"resolve":{"scale":{"color":"independent","strokeDash":"independent","shape":"independent"}},
"hconcat":[
{"title":{"text":"sPTB37","anchor":"middle","frame":"group","fontSize":8,"fontWeight":"normal","color":"#333","dx":101,"offset":10,"font":"Liberation Sans"},
 "spacing":39,"bounds":"flush",
 "resolve":{"scale":{"color":"independent","strokeDash":"independent","shape":"independent"}},
 "vconcat":[
 {"width":272,"height":327,"title":{"text":"A","dx":-38,"dy":18},
  "layer":[
   {"data":{"name":"diag"},"mark":{"type":"line","color":"#4E8E7D","strokeWidth":0.9},"encoding":{"x":{"field":"x","type":"quantitative","scale":{"domain":[0,1]},"axis":{"title":"1-Specificity","values":[0,0.25,0.5,0.75,1],"format":".2f"}},"y":{"field":"y","type":"quantitative","scale":{"domain":[0,1]},"axis":{"title":"Sensitivity","values":[0,0.25,0.5,0.75,1],"format":".2f"}}}},
   {"data":{"name":"a"},"mark":{"type":"line","interpolate":"step-after","strokeWidth":1.2},"encoding":{"x":{"field":"x","type":"quantitative"},"y":{"field":"y","type":"quantitative"},
     "color":{"field":"s","type":"nominal","scale":{"domain":["Composite","Tyrosine *","Leucine","Aspartate","Lactate *","Betaine","Acetate","Ca²⁺"],"range":["#EE7D1E","#B4506E","#8A9A56","#E8963E","#A9B7B4","#D4446E","#A99DE6","#DDD29E"]},"legend":{"title":null,"orient":"none","legendX":146,"legendY":188,"symbolType":"stroke","symbolSize":196,"labelOffset":16}},
     "strokeDash":{"field":"s","type":"nominal","scale":{"domain":["Composite","Tyrosine *","Leucine","Aspartate","Lactate *","Betaine","Acetate","Ca²⁺"],"range":[[1,0],[3,2],[6,2,1,2],[6,2,1,2,1,2],[5,3],[8,3],[8,4],[10,3]]},"legend":{"title":null,"orient":"none","legendX":146,"legendY":188,"symbolType":"stroke","symbolSize":196,"labelOffset":16}}}},
   {"data":{"name":"c37"},"mark":{"type":"line","interpolate":"step-after","strokeWidth":1.6},"encoding":{"x":{"field":"x","type":"quantitative"},"y":{"field":"y","type":"quantitative"},"color":{"datum":"Composite"},"strokeDash":{"datum":"Composite"}}},
   {"data":{"name":"la"},"mark":{"type":"point","opacity":0,"size":0},"encoding":{"shape":{"field":"auc","type":"nominal","sort":{"field":"o","op":"min"},"legend":{"title":null,"orient":"none","legendX":146,"legendY":188,"symbolSize":196,"labelOffset":58,"symbolOpacity":0,"symbolStrokeWidth":1.4,"strokeColor":"#e2e2e2"}}}}
  ]},
 {"width":272,"height":327,"title":{"text":"B","dx":-38,"dy":18},
  "layer":[
   {"data":{"name":"diag"},"mark":{"type":"line","color":"#4E8E7D","strokeWidth":0.9},"encoding":{"x":{"field":"x","type":"quantitative","scale":{"domain":[0,1]},"axis":{"title":"1-Specificity","values":[0,0.25,0.5,0.75,1],"format":".2f"}},"y":{"field":"y","type":"quantitative","scale":{"domain":[0,1]},"axis":{"title":"Sensitivity","values":[0,0.25,0.5,0.75,1],"format":".2f"}}}},
   {"data":{"name":"b"},"mark":{"type":"line","interpolate":"step-after","strokeWidth":1.2},"encoding":{"x":{"field":"x","type":"quantitative"},"y":{"field":"y","type":"quantitative"},
     "color":{"field":"s","type":"nominal","scale":{"domain":["All women","White","Black","Other ethnicity"],"range":["#F0862E","#7F8D4F","#56759F","#B46C7C"]},"legend":{"title":null,"orient":"none","legendX":141,"legendY":251,"symbolType":"stroke","symbolSize":576,"labelOffset":5}},
     "strokeDash":{"field":"s","type":"nominal","scale":{"domain":["All women","White","Black","Other ethnicity"],"range":[[1,0],[7,2,1,2,1,2],[4,2],[6,2,2,2]]},"legend":{"title":null,"orient":"none","legendX":141,"legendY":251,"symbolType":"stroke","symbolSize":576,"labelOffset":5}}}},
   {"data":{"name":"c37"},"mark":{"type":"line","interpolate":"step-after","strokeWidth":1.6},"encoding":{"x":{"field":"x","type":"quantitative"},"y":{"field":"y","type":"quantitative"},"color":{"datum":"All women"},"strokeDash":{"datum":"All women"}}},
   {"data":{"name":"lb"},"mark":{"type":"point","opacity":0,"size":0},"encoding":{"shape":{"field":"auc","type":"nominal","sort":{"field":"o","op":"min"},"legend":{"title":null,"orient":"none","legendX":141,"legendY":251,"symbolSize":576,"labelOffset":55,"symbolOpacity":0,"symbolStrokeWidth":1.4,"strokeColor":"#e2e2e2"}}}}
  ]},
 {"width":272,"height":327,"title":{"text":"C","dx":-38,"dy":18},
  "layer":[
   {"data":{"name":"diag"},"mark":{"type":"line","color":"#4E8E7D","strokeWidth":0.9},"encoding":{"x":{"field":"x","type":"quantitative","scale":{"domain":[0,1]},"axis":{"title":"1-Specificity","values":[0,0.25,0.5,0.75,1],"format":".2f"}},"y":{"field":"y","type":"quantitative","scale":{"domain":[0,1]},"axis":{"title":"Sensitivity","values":[0,0.25,0.5,0.75,1],"format":".2f"}}}},
   {"data":{"name":"c"},"mark":{"type":"line","interpolate":"step-after","strokeWidth":1.2},"encoding":{"x":{"field":"x","type":"quantitative"},"y":{"field":"y","type":"quantitative"},
     "color":{"field":"s","type":"nominal","scale":{"domain":["All women","10 to 15⁺⁶ weeks","16 to 23⁺⁶ weeks"],"range":["#EE7D1E","#6C86AC","#B4607C"]},"legend":{"title":null,"orient":"none","legendX":130,"legendY":268,"symbolType":"stroke","symbolSize":576,"labelOffset":5}},
     "strokeDash":{"field":"s","type":"nominal","scale":{"domain":["All women","10 to 15⁺⁶ weeks","16 to 23⁺⁶ weeks"],"range":[[1,0],[4,2],[6,2,2,2]]},"legend":{"title":null,"orient":"none","legendX":130,"legendY":268,"symbolType":"stroke","symbolSize":576,"labelOffset":5}}}},
   {"data":{"name":"c37"},"mark":{"type":"line","interpolate":"step-after","strokeWidth":1.6},"encoding":{"x":{"field":"x","type":"quantitative"},"y":{"field":"y","type":"quantitative"},"color":{"datum":"All women"},"strokeDash":{"datum":"All women"}}},
   {"data":{"name":"lc"},"mark":{"type":"point","opacity":0,"size":0},"encoding":{"shape":{"field":"auc","type":"nominal","sort":{"field":"o","op":"min"},"legend":{"title":null,"orient":"none","legendX":130,"legendY":268,"symbolSize":576,"labelOffset":65,"symbolOpacity":0,"symbolStrokeWidth":1.4,"strokeColor":"#e2e2e2"}}}}
  ]}
 ]},
{"title":{"text":"sPTB34","anchor":"middle","frame":"group","fontSize":8,"fontWeight":"normal","color":"#333","dx":101,"offset":10,"font":"Liberation Sans"},
 "spacing":39,"bounds":"flush",
 "resolve":{"scale":{"color":"independent","strokeDash":"independent","shape":"independent"}},
 "vconcat":[
 {"width":272,"height":327,"title":{"text":"D","dx":-42,"dy":18},
  "layer":[
   {"data":{"name":"diag"},"mark":{"type":"line","color":"#4E8E7D","strokeWidth":0.9},"encoding":{"x":{"field":"x","type":"quantitative","scale":{"domain":[0,1]},"axis":{"title":"1-Specificity","values":[0,0.25,0.5,0.75,1],"format":".2f"}},"y":{"field":"y","type":"quantitative","scale":{"domain":[0,1]},"axis":{"title":"Sensitivity","values":[0,0.25,0.5,0.75,1],"format":".2f"}}}},
   {"data":{"name":"dlin"},"mark":{"type":"line","strokeWidth":1.1},"encoding":{"x":{"field":"x","type":"quantitative"},"y":{"field":"y","type":"quantitative"},
     "color":{"field":"s","type":"nominal","scale":{"domain":["Composite","L. acidophilus +","L. crispatus *","Glucose","Ca²⁺","Aspartate"],"range":["#EE7D1E","#333333","#B457C4","#6DAAE0","#9AA5A5","#D24E7E"]},"legend":{"title":null,"orient":"none","legendX":137,"legendY":219,"symbolType":"stroke","symbolSize":529,"labelOffset":7}},
     "strokeDash":{"field":"s","type":"nominal","scale":{"domain":["Composite","L. acidophilus +","L. crispatus *","Glucose","Ca²⁺","Aspartate"],"range":[[1,0],[4,2],[6,2,2,2],[6,2,1,2,1,2],[4,3],[9,3]]},"legend":{"title":null,"orient":"none","legendX":137,"legendY":219,"symbolType":"stroke","symbolSize":529,"labelOffset":7}}}},
   {"data":{"name":"d"},"mark":{"type":"line","interpolate":"step-after","strokeWidth":1.2},"encoding":{"x":{"field":"x","type":"quantitative"},"y":{"field":"y","type":"quantitative"},
     "color":{"field":"s","type":"nominal","scale":{"domain":["Composite","L. acidophilus +","L. crispatus *","Glucose","Ca²⁺","Aspartate"],"range":["#EE7D1E","#333333","#B457C4","#6DAAE0","#9AA5A5","#D24E7E"]},"legend":{"title":null,"orient":"none","legendX":137,"legendY":219,"symbolType":"stroke","symbolSize":529,"labelOffset":7}},
     "strokeDash":{"field":"s","type":"nominal","scale":{"domain":["Composite","L. acidophilus +","L. crispatus *","Glucose","Ca²⁺","Aspartate"],"range":[[1,0],[4,2],[6,2,2,2],[6,2,1,2,1,2],[4,3],[9,3]]},"legend":{"title":null,"orient":"none","legendX":137,"legendY":219,"symbolType":"stroke","symbolSize":529,"labelOffset":7}}}},
   {"data":{"name":"c34"},"mark":{"type":"line","interpolate":"step-after","strokeWidth":1.6},"encoding":{"x":{"field":"x","type":"quantitative"},"y":{"field":"y","type":"quantitative"},"color":{"datum":"Composite"},"strokeDash":{"datum":"Composite"}}},
   {"data":{"name":"ld"},"mark":{"type":"point","opacity":0,"size":0},"encoding":{"shape":{"field":"auc","type":"nominal","sort":{"field":"o","op":"min"},"legend":{"title":null,"orient":"none","legendX":137,"legendY":219,"symbolSize":529,"labelOffset":62,"symbolOpacity":0,"symbolStrokeWidth":1.4,"strokeColor":"#e2e2e2"}}}}
  ]},
 {"width":272,"height":327,"title":{"text":"E","dx":-42,"dy":18},
  "layer":[
   {"data":{"name":"diag"},"mark":{"type":"line","color":"#4E8E7D","strokeWidth":0.9},"encoding":{"x":{"field":"x","type":"quantitative","scale":{"domain":[0,1]},"axis":{"title":"1-Specificity","values":[0,0.25,0.5,0.75,1],"format":".2f"}},"y":{"field":"y","type":"quantitative","scale":{"domain":[0,1]},"axis":{"title":"Sensitivity","values":[0,0.25,0.5,0.75,1],"format":".2f"}}}},
   {"data":{"name":"e"},"mark":{"type":"line","interpolate":"step-after","strokeWidth":1.2},"encoding":{"x":{"field":"x","type":"quantitative"},"y":{"field":"y","type":"quantitative"},
     "color":{"field":"s","type":"nominal","scale":{"domain":["All women","White","Black","Other ethnicity"],"range":["#F0862E","#7F8D4F","#56759F","#B46C7C"]},"legend":{"title":null,"orient":"none","legendX":141,"legendY":251,"symbolType":"stroke","symbolSize":576,"labelOffset":5}},
     "strokeDash":{"field":"s","type":"nominal","scale":{"domain":["All women","White","Black","Other ethnicity"],"range":[[1,0],[7,2,1,2,1,2],[4,2],[6,2,2,2]]},"legend":{"title":null,"orient":"none","legendX":141,"legendY":251,"symbolType":"stroke","symbolSize":576,"labelOffset":5}}}},
   {"data":{"name":"c34"},"mark":{"type":"line","interpolate":"step-after","strokeWidth":1.6},"encoding":{"x":{"field":"x","type":"quantitative"},"y":{"field":"y","type":"quantitative"},"color":{"datum":"All women"},"strokeDash":{"datum":"All women"}}},
   {"data":{"name":"le"},"mark":{"type":"point","opacity":0,"size":0},"encoding":{"shape":{"field":"auc","type":"nominal","sort":{"field":"o","op":"min"},"legend":{"title":null,"orient":"none","legendX":141,"legendY":251,"symbolSize":576,"labelOffset":55,"symbolOpacity":0,"symbolStrokeWidth":1.4,"strokeColor":"#e2e2e2"}}}}
  ]},
 {"width":272,"height":327,"title":{"text":"F","dx":-42,"dy":18},
  "layer":[
   {"data":{"name":"diag"},"mark":{"type":"line","color":"#4E8E7D","strokeWidth":0.9},"encoding":{"x":{"field":"x","type":"quantitative","scale":{"domain":[0,1]},"axis":{"title":"1-Specificity","values":[0,0.25,0.5,0.75,1],"format":".2f"}},"y":{"field":"y","type":"quantitative","scale":{"domain":[0,1]},"axis":{"title":"Sensitivity","values":[0,0.25,0.5,0.75,1],"format":".2f"}}}},
   {"data":{"name":"f"},"mark":{"type":"line","interpolate":"step-after","strokeWidth":1.2},"encoding":{"x":{"field":"x","type":"quantitative"},"y":{"field":"y","type":"quantitative"},
     "color":{"field":"s","type":"nominal","scale":{"domain":["All women","10 to 15⁺⁶ weeks","16 to 23⁺⁶ weeks"],"range":["#EE7D1E","#6C86AC","#B4607C"]},"legend":{"title":null,"orient":"none","legendX":131,"legendY":268,"symbolType":"stroke","symbolSize":484,"labelOffset":4}},
     "strokeDash":{"field":"s","type":"nominal","scale":{"domain":["All women","10 to 15⁺⁶ weeks","16 to 23⁺⁶ weeks"],"range":[[1,0],[4,2],[6,2,2,2]]},"legend":{"title":null,"orient":"none","legendX":131,"legendY":268,"symbolType":"stroke","symbolSize":484,"labelOffset":4}}}},
   {"data":{"name":"c34"},"mark":{"type":"line","interpolate":"step-after","strokeWidth":1.6},"encoding":{"x":{"field":"x","type":"quantitative"},"y":{"field":"y","type":"quantitative"},"color":{"datum":"All women"},"strokeDash":{"datum":"All women"}}},
   {"data":{"name":"lf"},"mark":{"type":"point","opacity":0,"size":0},"encoding":{"shape":{"field":"auc","type":"nominal","sort":{"field":"o","op":"min"},"legend":{"title":null,"orient":"none","legendX":131,"legendY":268,"symbolSize":484,"labelOffset":65,"symbolOpacity":0,"symbolStrokeWidth":1.4,"strokeColor":"#e2e2e2"}}}}
  ]}
 ]}
]
}
